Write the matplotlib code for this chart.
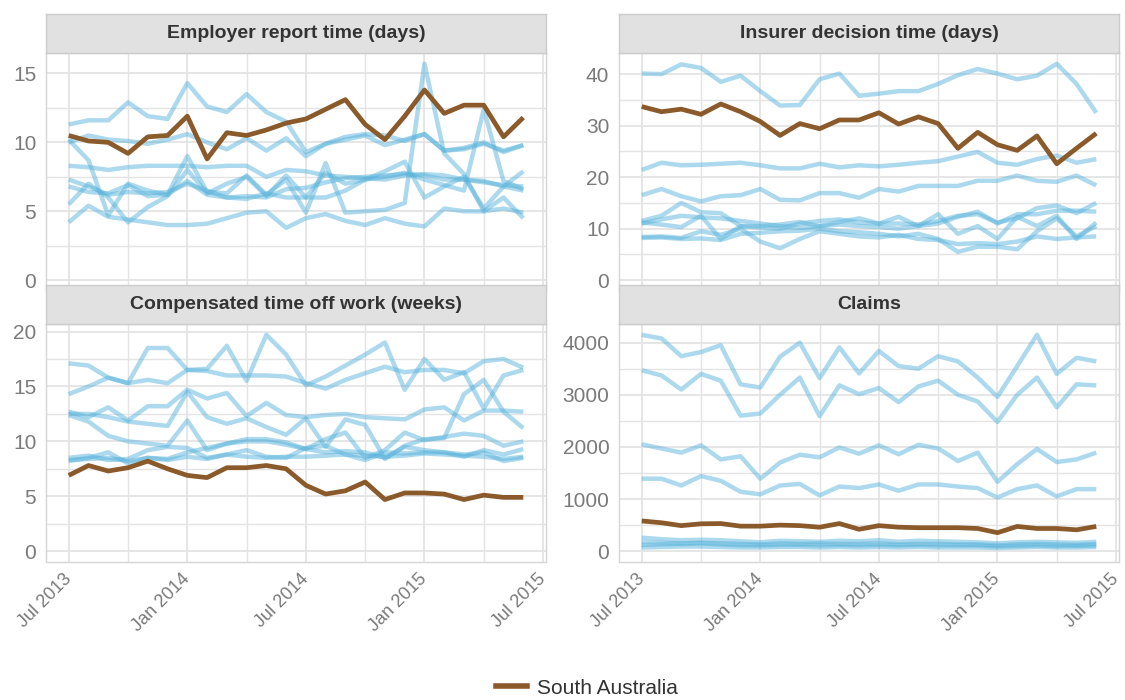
import matplotlib
matplotlib.use('Agg')
import matplotlib.pyplot as plt
import matplotlib.transforms as mtransforms
from matplotlib.lines import Line2D
from matplotlib.ticker import FixedLocator

plt.rcParams['font.family'] = ['Liberation Sans', 'DejaVu Sans']

# ---------------- data ----------------
months = list(range(24))  # Jul 2013 ... Jun 2015 (month index)
tick_positions = [0, 6, 12, 18, 24]
tick_labels = ['Jul 2013', 'Jan 2014', 'Jul 2014', 'Jan 2015', 'Jul 2015']

panel_titles = ['Employer report time (days)', 'Insurer decision time (days)',
                'Compensated time off work (weeks)', 'Claims']
y_ticks = [[0, 5, 10, 15], [0, 10, 20, 30, 40], [0, 5, 10, 15, 20],
           [0, 1000, 2000, 3000, 4000]]
legend_label = 'South Australia'

employer_sa = [10.5, 10.1, 10.0, 9.2, 10.4, 10.5, 11.9, 8.8, 10.7, 10.5, 10.9, 11.4,
               11.7, 12.4, 13.1, 11.3, 10.2, 11.9, 13.8, 12.1, 12.7, 12.7, 10.4, 11.8]
employer_others = [
    [11.3, 11.6, 11.6, 12.9, 11.9, 11.7, 14.3, 12.6, 12.2, 13.5, 12.2, 11.5,
     9.3, 9.9, 10.2, 10.5, 9.8, 10.2, 10.6, 9.4, 9.5, 9.9, 9.4, 9.8],
    [10.0, 10.5, 10.2, 10.1, 9.9, 10.2, 10.6, 10.0, 9.5, 10.3, 9.4, 10.3,
     9.0, 9.9, 10.4, 10.6, 10.5, 10.1, 10.6, 9.4, 9.6, 10.0, 9.3, 9.8],
    [8.3, 8.2, 8.0, 8.2, 8.3, 8.3, 8.3, 8.2, 8.3, 8.3, 7.5, 8.0,
     7.9, 7.6, 7.5, 7.4, 7.3, 7.6, 7.7, 7.6, 7.3, 7.1, 6.9, 6.8],
    [10.2, 8.7, 4.7, 7.0, 6.5, 6.2, 9.0, 6.4, 6.3, 7.6, 6.2, 7.3,
     4.9, 8.5, 4.9, 5.0, 5.1, 5.6, 15.7, 9.2, 7.7, 5.0, 6.0, 4.5],
    [7.3, 6.8, 6.2, 6.4, 6.3, 6.4, 7.0, 6.5, 6.0, 5.9, 6.3, 6.0,
     6.0, 6.0, 6.5, 7.3, 7.5, 7.8, 7.3, 6.9, 6.5, 12.4, 7.2, 6.6],
    [5.5, 7.0, 6.0, 4.2, 5.3, 6.1, 8.0, 6.3, 7.0, 7.5, 6.1, 7.6,
     6.0, 7.8, 7.0, 7.3, 7.9, 8.6, 6.0, 6.8, 7.5, 5.2, 6.8, 7.9],
    [4.2, 5.4, 4.6, 4.4, 4.2, 4.0, 4.0, 4.1, 4.5, 4.9, 5.0, 3.8,
     4.5, 4.8, 4.3, 4.0, 4.5, 4.1, 3.9, 5.2, 5.0, 5.0, 5.2, 4.9],
    [6.8, 6.4, 6.3, 6.9, 6.1, 6.2, 7.2, 6.2, 6.0, 6.1, 6.0, 6.6,
     6.7, 7.1, 7.4, 7.5, 7.6, 7.7, 7.6, 7.3, 7.3, 7.2, 6.8, 6.5],
]

insurer_sa = [33.7, 32.7, 33.2, 32.2, 34.2, 32.7, 30.8, 28.1, 30.4, 29.4, 31.1, 31.1,
              32.5, 30.3, 31.7, 30.4, 25.6, 28.7, 26.3, 25.2, 28.0, 22.6, 25.6, 28.5]
insurer_others = [
    [40.1, 40.0, 41.9, 41.2, 38.5, 39.7, 36.7, 33.9, 34.0, 39.0, 40.1, 35.8,
     36.2, 36.7, 36.7, 38.1, 39.8, 41.0, 40.1, 39.0, 39.7, 42.0, 38.1, 32.5],
    [21.4, 22.8, 22.3, 22.4, 22.6, 22.8, 22.3, 21.7, 21.7, 22.6, 21.9, 22.3,
     22.1, 22.4, 22.8, 23.1, 24.0, 24.9, 22.8, 22.4, 23.5, 24.2, 22.8, 23.5],
    [16.5, 17.7, 16.3, 15.3, 16.3, 16.5, 17.7, 15.6, 15.5, 16.9, 16.9, 16.0,
     17.7, 17.2, 18.3, 18.3, 18.3, 19.3, 19.3, 20.3, 19.3, 19.1, 20.3, 18.4],
    [11.5, 12.5, 15.0, 13.2, 13.0, 10.5, 10.2, 10.0, 11.0, 11.5, 11.8, 11.2,
     11.0, 11.0, 10.8, 11.5, 12.5, 12.8, 11.2, 12.0, 14.0, 14.5, 13.0, 15.0],
    [11.2, 10.8, 10.3, 12.5, 8.0, 10.5, 10.5, 10.8, 11.3, 10.5, 11.3, 12.0,
     11.0, 12.3, 10.5, 12.8, 9.0, 10.5, 8.0, 12.3, 10.5, 12.5, 8.0, 11.2],
    [8.4, 8.5, 8.2, 9.5, 8.8, 10.0, 7.5, 6.2, 8.0, 9.5, 9.0, 8.5,
     8.3, 8.8, 8.0, 7.8, 7.0, 7.2, 7.0, 7.5, 8.5, 8.0, 8.3, 8.5],
    [8.2, 8.3, 8.0, 8.1, 7.8, 9.0, 9.2, 9.5, 9.6, 10.0, 9.5, 9.3,
     9.0, 8.5, 9.0, 8.0, 5.5, 6.5, 6.5, 6.0, 9.5, 12.0, 8.5, 10.5],
    [11.0, 11.8, 12.5, 12.2, 12.0, 11.5, 11.0, 10.5, 10.2, 10.5, 10.8, 10.5,
     10.3, 10.0, 10.5, 11.0, 12.3, 13.3, 11.0, 12.8, 12.8, 13.5, 13.5, 13.3],
]

timeoff_sa = [6.9, 7.8, 7.3, 7.6, 8.2, 7.5, 6.9, 6.7, 7.6, 7.6, 7.8, 7.5,
              6.0, 5.2, 5.5, 6.3, 4.7, 5.3, 5.3, 5.2, 4.7, 5.1, 4.9, 4.9]
timeoff_others = [
    [17.1, 16.9, 15.8, 15.3, 18.5, 18.5, 16.5, 16.6, 18.7, 15.5, 19.7, 17.9,
     15.1, 15.9, 16.9, 17.9, 19.0, 14.7, 17.5, 15.6, 16.3, 13.0, 16.0, 16.5],
    [14.3, 15.0, 15.8, 15.3, 15.6, 15.3, 16.5, 16.4, 16.0, 16.0, 16.0, 15.9,
     15.3, 14.8, 15.6, 16.2, 16.8, 16.3, 16.5, 16.5, 16.2, 17.3, 17.5, 16.7],
    [12.7, 12.2, 13.1, 11.9, 13.2, 13.2, 14.7, 13.9, 14.4, 12.3, 13.5, 12.4,
     12.2, 12.4, 12.5, 12.2, 12.1, 12.0, 12.9, 13.1, 11.9, 12.8, 12.8, 12.7],
    [12.5, 12.5, 12.2, 11.8, 11.6, 11.4, 14.5, 12.2, 11.6, 12.1, 11.3, 10.6,
     12.1, 9.5, 12.0, 11.5, 8.4, 9.6, 10.2, 10.3, 14.3, 15.6, 12.7, 11.2],
    [12.4, 11.8, 10.5, 10.0, 9.8, 9.6, 11.9, 9.2, 9.8, 10.2, 10.2, 9.9,
     9.3, 10.2, 10.8, 8.5, 9.2, 10.8, 10.1, 10.4, 10.7, 10.5, 9.6, 10.0],
    [8.3, 8.4, 8.5, 8.2, 8.5, 8.3, 8.6, 8.4, 8.8, 8.6, 8.5, 8.6,
     8.6, 8.7, 8.8, 8.7, 8.6, 8.7, 8.9, 8.8, 8.7, 8.6, 8.4, 8.6],
    [8.2, 8.5, 9.0, 8.0, 8.5, 8.4, 9.0, 9.4, 9.8, 10.0, 10.0, 9.7,
     9.3, 9.0, 9.1, 9.0, 8.5, 9.5, 9.2, 9.0, 8.8, 9.0, 8.2, 8.5],
    [8.5, 8.7, 8.3, 8.4, 9.2, 9.5, 9.4, 8.5, 8.8, 9.2, 8.6, 8.5,
     9.4, 9.6, 8.8, 8.3, 9.0, 8.9, 9.0, 9.0, 8.6, 9.2, 8.8, 9.3],
]

claims_sa = [580, 545, 490, 525, 530, 480, 480, 500, 490, 460, 530, 420,
             490, 460, 450, 450, 450, 435, 355, 475, 435, 435, 410, 475]
claims_others = [
    [4150, 4080, 3740, 3820, 3950, 3200, 3140, 3730, 4000, 3320, 3910, 3410,
     3840, 3550, 3500, 3740, 3640, 3330, 2960, 3550, 4150, 3400, 3710, 3640],
    [3470, 3370, 3100, 3400, 3270, 2600, 2640, 3000, 3330, 2590, 3180, 3010,
     3130, 2860, 3160, 3270, 3000, 2870, 2480, 3000, 3330, 2760, 3200, 3180],
    [2050, 1970, 1890, 2030, 1760, 1820, 1390, 1700, 1850, 1800, 1990, 1870,
     2030, 1860, 2040, 1970, 1730, 1890, 1330, 1670, 1960, 1710, 1760, 1890],
    [1390, 1390, 1260, 1440, 1350, 1140, 1090, 1260, 1290, 1070, 1240, 1210,
     1280, 1160, 1280, 1280, 1240, 1210, 1030, 1190, 1260, 1050, 1190, 1190],
    [260, 230, 210, 220, 210, 190, 170, 200, 190, 180, 200, 190,
     210, 180, 200, 190, 180, 170, 150, 170, 180, 170, 160, 180],
    [170, 160, 150, 160, 150, 140, 130, 150, 140, 150, 140, 140,
     150, 130, 140, 140, 130, 130, 110, 130, 140, 130, 120, 140],
    [120, 130, 140, 150, 130, 110, 110, 120, 120, 110, 120, 110,
     120, 110, 120, 110, 110, 110, 90, 100, 110, 100, 100, 110],
    [70, 80, 90, 90, 80, 70, 70, 80, 80, 70, 80, 70,
     80, 70, 80, 70, 70, 70, 60, 70, 80, 70, 70, 80],
]

sa_series = [employer_sa, insurer_sa, timeoff_sa, claims_sa]
other_series = [employer_others, insurer_others, timeoff_others, claims_others]

# ---------------- styling / layout ----------------
W, H = 1125, 700
BROWN = '#8b5a2b'
BLUE = '#5ab4dc'
GRID = '#e4e4e4'
TEXT_GREY = '#7a7a7a'

fig = plt.figure(figsize=(W / 100, H / 100), dpi=100)

lefts = [46, 619]
tops = [53, 324]
pw, ph = 500, 238
strip_h = 39

xpad = 0.05 * (months[-1] - months[0])
label_shift = mtransforms.ScaledTranslation(-6 / 100, 0, fig.dpi_scale_trans)

for k in range(4):
    r, c = divmod(k, 2)
    l, t = lefts[c], tops[r]
    ax = fig.add_axes([l / W, 1 - (t + ph) / H, pw / W, ph / H])
    sax = fig.add_axes([l / W, 1 - t / H, pw / W, strip_h / H])

    for s in other_series[k]:
        ax.plot(months, s, color=BLUE, alpha=0.5, lw=3.2,
                solid_joinstyle='round', solid_capstyle='butt', zorder=2)
    ax.plot(months, sa_series[k], color=BROWN, lw=3.4,
            solid_joinstyle='round', solid_capstyle='butt', zorder=3)

    ymax = max(max(max(s) for s in other_series[k]), max(sa_series[k]))
    ax.set_ylim(-0.05 * ymax, 1.05 * ymax)
    ax.set_xlim(months[0] - xpad, months[-1] + xpad)

    yt = y_ticks[k]
    ax.set_yticks(yt)
    ax.yaxis.set_minor_locator(FixedLocator([(a + b) / 2 for a, b in zip(yt[:-1], yt[1:])]
                                            + [yt[-1] + (yt[1] - yt[0]) / 2]))
    ax.set_xticks(tick_positions)
    ax.xaxis.set_minor_locator(FixedLocator([p + 3 for p in tick_positions[:-1]]))

    ax.grid(True, which='major', color=GRID, lw=1.3, zorder=0)
    ax.grid(True, which='minor', color=GRID, lw=1.0, zorder=0)
    ax.set_axisbelow(True)
    for sp in ax.spines.values():
        sp.set_color('#d6d6d6')
        sp.set_linewidth(1.0)

    ax.tick_params(axis='both', which='both', length=0)
    ax.tick_params(axis='y', labelsize=15, labelcolor=TEXT_GREY, pad=7)
    if r == 1:
        ax.set_xticklabels(tick_labels, rotation=45, ha='right', va='top',
                           rotation_mode='anchor', fontsize=13, color=TEXT_GREY)
        ax.tick_params(axis='x', pad=6)
        for lab in ax.get_xticklabels():
            lab.set_transform(lab.get_transform() + label_shift)
    else:
        ax.set_xticklabels([])

    sax.set_facecolor('#e1e1e1')
    sax.set_xticks([])
    sax.set_yticks([])
    for sp in sax.spines.values():
        sp.set_color('#cccccc')
        sp.set_linewidth(1.0)
    sax.text(0.5, 0.5, panel_titles[k], ha='center', va='center',
             fontsize=14, fontweight='bold', color='#333333',
             transform=sax.transAxes)

handle = Line2D([0], [0], color=BROWN, lw=4)
fig.legend([handle], [legend_label], loc='center', bbox_to_anchor=(587 / W, 1 - 688 / H),
           frameon=False, fontsize=15, handlelength=1.5, handletextpad=0.5,
           labelcolor='#333333')

fig.savefig('out.png', dpi=100)
